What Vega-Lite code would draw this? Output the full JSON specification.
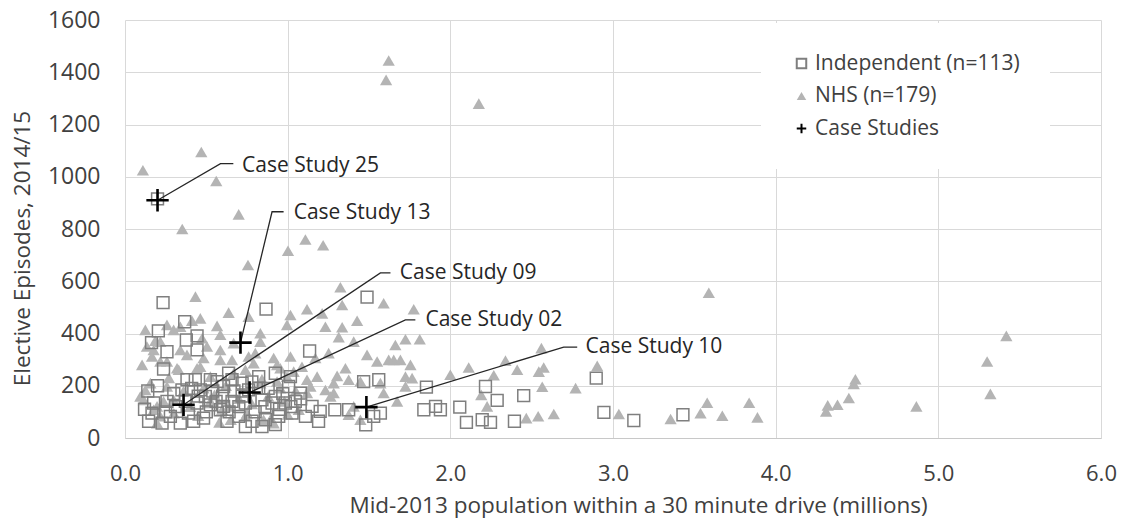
{
  "$schema": "https://vega.github.io/schema/vega-lite/v6.json",
  "width": 976,
  "height": 418,
  "autosize": {"type": "none"},
  "padding": {"left": 125, "top": 20, "right": 21, "bottom": 86},
  "background": "white",
  "config": {
    "font": "Open Sans",
    "view": {"stroke": null},
    "legend": {
      "orient": "none",
      "legendX": 636,
      "legendY": 3,
      "padding": 30,
      "fillColor": "white",
      "labelFontSize": 21,
      "labelColor": "#404040",
      "labelFont": "Open Sans",
      "labelLimit": 400,
      "symbolSize": 90,
      "symbolStrokeWidth": 2,
      "rowPadding": 10.5,
      "labelOffset": 3
    }
  },
  "datasets": {
    "indep": [
      {"s": "Independent (n=113)", "x": 0.234, "y": 518}, {"s": "Independent (n=113)", "x": 0.867, "y": 493},
      {"s": "Independent (n=113)", "x": 1.135, "y": 333}, {"s": "Independent (n=113)", "x": 1.488, "y": 539},
      {"s": "Independent (n=113)", "x": 0.367, "y": 445}, {"s": "Independent (n=113)", "x": 0.205, "y": 410},
      {"s": "Independent (n=113)", "x": 0.443, "y": 391}, {"s": "Independent (n=113)", "x": 0.377, "y": 375},
      {"s": "Independent (n=113)", "x": 0.163, "y": 365}, {"s": "Independent (n=113)", "x": 0.258, "y": 330},
      {"s": "Independent (n=113)", "x": 0.443, "y": 337}, {"s": "Independent (n=113)", "x": 0.237, "y": 264},
      {"s": "Independent (n=113)", "x": 0.637, "y": 248}, {"s": "Independent (n=113)", "x": 1.467, "y": 216},
      {"s": "Independent (n=113)", "x": 1.56, "y": 223}, {"s": "Independent (n=113)", "x": 1.48, "y": 50},
      {"s": "Independent (n=113)", "x": 1.57, "y": 95}, {"s": "Independent (n=113)", "x": 1.29, "y": 108},
      {"s": "Independent (n=113)", "x": 1.375, "y": 108}, {"s": "Independent (n=113)", "x": 1.529, "y": 83},
      {"s": "Independent (n=113)", "x": 1.2, "y": 102}, {"s": "Independent (n=113)", "x": 1.19, "y": 64},
      {"s": "Independent (n=113)", "x": 1.853, "y": 195}, {"s": "Independent (n=113)", "x": 1.837, "y": 108},
      {"s": "Independent (n=113)", "x": 1.909, "y": 121}, {"s": "Independent (n=113)", "x": 1.939, "y": 108},
      {"s": "Independent (n=113)", "x": 2.058, "y": 118}, {"s": "Independent (n=113)", "x": 2.099, "y": 60},
      {"s": "Independent (n=113)", "x": 2.216, "y": 197}, {"s": "Independent (n=113)", "x": 2.196, "y": 70},
      {"s": "Independent (n=113)", "x": 2.247, "y": 60}, {"s": "Independent (n=113)", "x": 2.288, "y": 144},
      {"s": "Independent (n=113)", "x": 2.451, "y": 162}, {"s": "Independent (n=113)", "x": 2.394, "y": 64},
      {"s": "Independent (n=113)", "x": 2.897, "y": 229}, {"s": "Independent (n=113)", "x": 2.944, "y": 98},
      {"s": "Independent (n=113)", "x": 3.128, "y": 67}, {"s": "Independent (n=113)", "x": 3.43, "y": 89},
      {"s": "Independent (n=113)", "x": 0.2, "y": 915}, {"s": "Independent (n=113)", "x": 1.15, "y": 121},
      {"s": "Independent (n=113)", "x": 1.078, "y": 172}, {"s": "Independent (n=113)", "x": 1.017, "y": 235},
      {"s": "Independent (n=113)", "x": 0.145, "y": 64}, {"s": "Independent (n=113)", "x": 0.176, "y": 134},
      {"s": "Independent (n=113)", "x": 0.258, "y": 140}, {"s": "Independent (n=113)", "x": 0.279, "y": 83},
      {"s": "Independent (n=113)", "x": 0.35, "y": 184}, {"s": "Independent (n=113)", "x": 0.381, "y": 223},
      {"s": "Independent (n=113)", "x": 0.432, "y": 223}, {"s": "Independent (n=113)", "x": 0.463, "y": 184},
      {"s": "Independent (n=113)", "x": 0.494, "y": 159}, {"s": "Independent (n=113)", "x": 0.525, "y": 223},
      {"s": "Independent (n=113)", "x": 0.566, "y": 216}, {"s": "Independent (n=113)", "x": 0.606, "y": 197},
      {"s": "Independent (n=113)", "x": 0.586, "y": 108}, {"s": "Independent (n=113)", "x": 0.483, "y": 76},
      {"s": "Independent (n=113)", "x": 0.422, "y": 64}, {"s": "Independent (n=113)", "x": 0.34, "y": 57},
      {"s": "Independent (n=113)", "x": 0.228, "y": 57}, {"s": "Independent (n=113)", "x": 0.166, "y": 95},
      {"s": "Independent (n=113)", "x": 0.371, "y": 140}, {"s": "Independent (n=113)", "x": 0.443, "y": 134},
      {"s": "Independent (n=113)", "x": 0.525, "y": 127}, {"s": "Independent (n=113)", "x": 0.606, "y": 121},
      {"s": "Independent (n=113)", "x": 0.627, "y": 64}, {"s": "Independent (n=113)", "x": 0.658, "y": 223},
      {"s": "Independent (n=113)", "x": 0.72, "y": 210}, {"s": "Independent (n=113)", "x": 0.822, "y": 235},
      {"s": "Independent (n=113)", "x": 0.924, "y": 248}, {"s": "Independent (n=113)", "x": 0.658, "y": 140},
      {"s": "Independent (n=113)", "x": 0.74, "y": 134}, {"s": "Independent (n=113)", "x": 0.842, "y": 146},
      {"s": "Independent (n=113)", "x": 0.924, "y": 159}, {"s": "Independent (n=113)", "x": 0.986, "y": 134},
      {"s": "Independent (n=113)", "x": 1.047, "y": 140}, {"s": "Independent (n=113)", "x": 0.699, "y": 83},
      {"s": "Independent (n=113)", "x": 0.781, "y": 64}, {"s": "Independent (n=113)", "x": 0.863, "y": 70},
      {"s": "Independent (n=113)", "x": 0.945, "y": 83}, {"s": "Independent (n=113)", "x": 1.027, "y": 95},
      {"s": "Independent (n=113)", "x": 1.109, "y": 83}, {"s": "Independent (n=113)", "x": 0.74, "y": 44},
      {"s": "Independent (n=113)", "x": 0.842, "y": 44}, {"s": "Independent (n=113)", "x": 0.924, "y": 51},
      {"s": "Independent (n=113)", "x": 0.904, "y": 134}, {"s": "Independent (n=113)", "x": 0.822, "y": 191},
      {"s": "Independent (n=113)", "x": 1.006, "y": 197}, {"s": "Independent (n=113)", "x": 0.76, "y": 184},
      {"s": "Independent (n=113)", "x": 0.12, "y": 110}, {"s": "Independent (n=113)", "x": 0.14, "y": 180},
      {"s": "Independent (n=113)", "x": 0.2, "y": 200}, {"s": "Independent (n=113)", "x": 0.25, "y": 100},
      {"s": "Independent (n=113)", "x": 0.3, "y": 170}, {"s": "Independent (n=113)", "x": 0.31, "y": 120},
      {"s": "Independent (n=113)", "x": 0.39, "y": 95}, {"s": "Independent (n=113)", "x": 0.41, "y": 190},
      {"s": "Independent (n=113)", "x": 0.45, "y": 160}, {"s": "Independent (n=113)", "x": 0.5, "y": 100},
      {"s": "Independent (n=113)", "x": 0.54, "y": 180}, {"s": "Independent (n=113)", "x": 0.56, "y": 140},
      {"s": "Independent (n=113)", "x": 0.6, "y": 160}, {"s": "Independent (n=113)", "x": 0.64, "y": 100},
      {"s": "Independent (n=113)", "x": 0.67, "y": 180}, {"s": "Independent (n=113)", "x": 0.7, "y": 120},
      {"s": "Independent (n=113)", "x": 0.72, "y": 160}, {"s": "Independent (n=113)", "x": 0.8, "y": 100},
      {"s": "Independent (n=113)", "x": 0.86, "y": 120}, {"s": "Independent (n=113)", "x": 0.88, "y": 190},
      {"s": "Independent (n=113)", "x": 0.95, "y": 110}, {"s": "Independent (n=113)", "x": 0.97, "y": 170},
      {"s": "Independent (n=113)", "x": 1.02, "y": 120}, {"s": "Independent (n=113)", "x": 1.08, "y": 150},
      {"s": "Independent (n=113)", "x": 0.78, "y": 215}
    ],
    "nhs": [
      {"s": "NHS (n=179)", "x": 0.11, "y": 1025}, {"s": "NHS (n=179)", "x": 0.469, "y": 1095},
      {"s": "NHS (n=179)", "x": 0.561, "y": 984}, {"s": "NHS (n=179)", "x": 0.699, "y": 856},
      {"s": "NHS (n=179)", "x": 0.352, "y": 800}, {"s": "NHS (n=179)", "x": 1.002, "y": 717},
      {"s": "NHS (n=179)", "x": 1.109, "y": 760}, {"s": "NHS (n=179)", "x": 1.218, "y": 738},
      {"s": "NHS (n=179)", "x": 1.621, "y": 1445}, {"s": "NHS (n=179)", "x": 1.605, "y": 1371},
      {"s": "NHS (n=179)", "x": 2.175, "y": 1280}, {"s": "NHS (n=179)", "x": 0.756, "y": 662},
      {"s": "NHS (n=179)", "x": 3.589, "y": 556}, {"s": "NHS (n=179)", "x": 1.775, "y": 493},
      {"s": "NHS (n=179)", "x": 1.59, "y": 516}, {"s": "NHS (n=179)", "x": 1.724, "y": 378},
      {"s": "NHS (n=179)", "x": 1.812, "y": 378}, {"s": "NHS (n=179)", "x": 1.662, "y": 356},
      {"s": "NHS (n=179)", "x": 1.652, "y": 299}, {"s": "NHS (n=179)", "x": 1.693, "y": 299},
      {"s": "NHS (n=179)", "x": 1.755, "y": 280}, {"s": "NHS (n=179)", "x": 1.724, "y": 235},
      {"s": "NHS (n=179)", "x": 1.765, "y": 229}, {"s": "NHS (n=179)", "x": 1.724, "y": 197},
      {"s": "NHS (n=179)", "x": 2.0, "y": 242}, {"s": "NHS (n=179)", "x": 2.113, "y": 270},
      {"s": "NHS (n=179)", "x": 2.267, "y": 240}, {"s": "NHS (n=179)", "x": 2.339, "y": 296},
      {"s": "NHS (n=179)", "x": 2.411, "y": 261}, {"s": "NHS (n=179)", "x": 2.56, "y": 344},
      {"s": "NHS (n=179)", "x": 2.544, "y": 254}, {"s": "NHS (n=179)", "x": 2.574, "y": 270},
      {"s": "NHS (n=179)", "x": 2.565, "y": 196}, {"s": "NHS (n=179)", "x": 2.77, "y": 191},
      {"s": "NHS (n=179)", "x": 2.903, "y": 276}, {"s": "NHS (n=179)", "x": 2.19, "y": 165},
      {"s": "NHS (n=179)", "x": 2.226, "y": 121}, {"s": "NHS (n=179)", "x": 2.467, "y": 76},
      {"s": "NHS (n=179)", "x": 2.54, "y": 83}, {"s": "NHS (n=179)", "x": 2.636, "y": 92},
      {"s": "NHS (n=179)", "x": 3.036, "y": 92}, {"s": "NHS (n=179)", "x": 3.354, "y": 73},
      {"s": "NHS (n=179)", "x": 3.538, "y": 95}, {"s": "NHS (n=179)", "x": 3.579, "y": 135},
      {"s": "NHS (n=179)", "x": 3.672, "y": 85}, {"s": "NHS (n=179)", "x": 3.837, "y": 135},
      {"s": "NHS (n=179)", "x": 3.888, "y": 79}, {"s": "NHS (n=179)", "x": 4.49, "y": 225},
      {"s": "NHS (n=179)", "x": 4.48, "y": 207}, {"s": "NHS (n=179)", "x": 4.45, "y": 153},
      {"s": "NHS (n=179)", "x": 4.38, "y": 127}, {"s": "NHS (n=179)", "x": 4.32, "y": 125},
      {"s": "NHS (n=179)", "x": 4.31, "y": 102}, {"s": "NHS (n=179)", "x": 4.865, "y": 121},
      {"s": "NHS (n=179)", "x": 5.418, "y": 391}, {"s": "NHS (n=179)", "x": 5.3, "y": 293},
      {"s": "NHS (n=179)", "x": 5.32, "y": 169},
      {"s": "NHS (n=179)", "x": 0.433, "y": 541}, {"s": "NHS (n=179)", "x": 0.637, "y": 480},
      {"s": "NHS (n=179)", "x": 1.017, "y": 471}, {"s": "NHS (n=179)", "x": 1.119, "y": 493},
      {"s": "NHS (n=179)", "x": 1.212, "y": 477}, {"s": "NHS (n=179)", "x": 1.324, "y": 577},
      {"s": "NHS (n=179)", "x": 1.335, "y": 509}, {"s": "NHS (n=179)", "x": 1.427, "y": 449},
      {"s": "NHS (n=179)", "x": 1.335, "y": 424}, {"s": "NHS (n=179)", "x": 1.232, "y": 426},
      {"s": "NHS (n=179)", "x": 0.996, "y": 433}, {"s": "NHS (n=179)", "x": 0.832, "y": 401},
      {"s": "NHS (n=179)", "x": 0.76, "y": 464}, {"s": "NHS (n=179)", "x": 0.566, "y": 429},
      {"s": "NHS (n=179)", "x": 0.463, "y": 458}, {"s": "NHS (n=179)", "x": 0.412, "y": 449},
      {"s": "NHS (n=179)", "x": 0.34, "y": 426}, {"s": "NHS (n=179)", "x": 0.258, "y": 433},
      {"s": "NHS (n=179)", "x": 0.125, "y": 414}, {"s": "NHS (n=179)", "x": 0.135, "y": 350},
      {"s": "NHS (n=179)", "x": 0.105, "y": 280}, {"s": "NHS (n=179)", "x": 0.176, "y": 337},
      {"s": "NHS (n=179)", "x": 0.217, "y": 369}, {"s": "NHS (n=179)", "x": 0.258, "y": 293},
      {"s": "NHS (n=179)", "x": 0.34, "y": 337}, {"s": "NHS (n=179)", "x": 0.381, "y": 318},
      {"s": "NHS (n=179)", "x": 0.504, "y": 350}, {"s": "NHS (n=179)", "x": 0.483, "y": 306},
      {"s": "NHS (n=179)", "x": 0.586, "y": 337}, {"s": "NHS (n=179)", "x": 0.658, "y": 299},
      {"s": "NHS (n=179)", "x": 0.76, "y": 312}, {"s": "NHS (n=179)", "x": 0.791, "y": 286},
      {"s": "NHS (n=179)", "x": 0.914, "y": 306}, {"s": "NHS (n=179)", "x": 1.017, "y": 312},
      {"s": "NHS (n=179)", "x": 0.955, "y": 267}, {"s": "NHS (n=179)", "x": 1.252, "y": 325},
      {"s": "NHS (n=179)", "x": 1.314, "y": 386}, {"s": "NHS (n=179)", "x": 1.406, "y": 369},
      {"s": "NHS (n=179)", "x": 1.488, "y": 318}, {"s": "NHS (n=179)", "x": 1.55, "y": 293},
      {"s": "NHS (n=179)", "x": 1.621, "y": 299}, {"s": "NHS (n=179)", "x": 1.181, "y": 235},
      {"s": "NHS (n=179)", "x": 1.283, "y": 210}, {"s": "NHS (n=179)", "x": 1.375, "y": 223},
      {"s": "NHS (n=179)", "x": 1.447, "y": 216}, {"s": "NHS (n=179)", "x": 1.57, "y": 210},
      {"s": "NHS (n=179)", "x": 1.673, "y": 140}, {"s": "NHS (n=179)", "x": 1.119, "y": 172},
      {"s": "NHS (n=179)", "x": 1.406, "y": 121}, {"s": "NHS (n=179)", "x": 1.447, "y": 70},
      {"s": "NHS (n=179)", "x": 0.935, "y": 280}, {"s": "NHS (n=179)", "x": 1.037, "y": 254},
      {"s": "NHS (n=179)", "x": 1.119, "y": 223}, {"s": "NHS (n=179)", "x": 0.668, "y": 248},
      {"s": "NHS (n=179)", "x": 0.463, "y": 273}, {"s": "NHS (n=179)", "x": 0.32, "y": 267},
      {"s": "NHS (n=179)", "x": 0.094, "y": 159}, {"s": "NHS (n=179)", "x": 0.156, "y": 210},
      {"s": "NHS (n=179)", "x": 0.197, "y": 121}, {"s": "NHS (n=179)", "x": 0.217, "y": 83},
      {"s": "NHS (n=179)", "x": 0.197, "y": 57}, {"s": "NHS (n=179)", "x": 0.299, "y": 146},
      {"s": "NHS (n=179)", "x": 0.525, "y": 134}, {"s": "NHS (n=179)", "x": 0.75, "y": 95},
      {"s": "NHS (n=179)", "x": 0.852, "y": 70}, {"s": "NHS (n=179)", "x": 0.914, "y": 57},
      {"s": "NHS (n=179)", "x": 0.832, "y": 210}, {"s": "NHS (n=179)", "x": 0.955, "y": 191},
      {"s": "NHS (n=179)", "x": 0.474, "y": 382}, {"s": "NHS (n=179)", "x": 0.668, "y": 363},
      {"s": "NHS (n=179)", "x": 0.586, "y": 395}, {"s": "NHS (n=179)", "x": 1.355, "y": 267},
      {"s": "NHS (n=179)", "x": 1.304, "y": 238}, {"s": "NHS (n=179)", "x": 1.375, "y": 89},
      {"s": "NHS (n=179)", "x": 1.59, "y": 172}, {"s": "NHS (n=179)", "x": 1.283, "y": 172},
      {"s": "NHS (n=179)", "x": 0.299, "y": 414}, {"s": "NHS (n=179)", "x": 0.186, "y": 372},
      {"s": "NHS (n=179)", "x": 0.166, "y": 312}, {"s": "NHS (n=179)", "x": 0.217, "y": 293},
      {"s": "NHS (n=179)", "x": 0.586, "y": 299}, {"s": "NHS (n=179)", "x": 0.33, "y": 261},
      {"s": "NHS (n=179)", "x": 0.443, "y": 267}, {"s": "NHS (n=179)", "x": 0.525, "y": 235},
      {"s": "NHS (n=179)", "x": 0.125, "y": 184}, {"s": "NHS (n=179)", "x": 0.115, "y": 146},
      {"s": "NHS (n=179)", "x": 0.176, "y": 108}, {"s": "NHS (n=179)", "x": 0.237, "y": 140},
      {"s": "NHS (n=179)", "x": 0.258, "y": 197}, {"s": "NHS (n=179)", "x": 0.483, "y": 191},
      {"s": "NHS (n=179)", "x": 0.525, "y": 140}, {"s": "NHS (n=179)", "x": 0.597, "y": 108},
      {"s": "NHS (n=179)", "x": 0.832, "y": 369}, {"s": "NHS (n=179)", "x": 0.801, "y": 325},
      {"s": "NHS (n=179)", "x": 1.17, "y": 306}, {"s": "NHS (n=179)", "x": 1.088, "y": 273},
      {"s": "NHS (n=179)", "x": 0.74, "y": 261}, {"s": "NHS (n=179)", "x": 0.842, "y": 225},
      {"s": "NHS (n=179)", "x": 0.935, "y": 216}, {"s": "NHS (n=179)", "x": 0.996, "y": 235},
      {"s": "NHS (n=179)", "x": 0.637, "y": 121}, {"s": "NHS (n=179)", "x": 0.893, "y": 70},
      {"s": "NHS (n=179)", "x": 1.068, "y": 108}, {"s": "NHS (n=179)", "x": 0.74, "y": 83},
      {"s": "NHS (n=179)", "x": 1.14, "y": 197}, {"s": "NHS (n=179)", "x": 1.232, "y": 184},
      {"s": "NHS (n=179)", "x": 1.263, "y": 159}, {"s": "NHS (n=179)", "x": 0.3, "y": 95},
      {"s": "NHS (n=179)", "x": 0.36, "y": 180}, {"s": "NHS (n=179)", "x": 0.4, "y": 120},
      {"s": "NHS (n=179)", "x": 0.55, "y": 165}, {"s": "NHS (n=179)", "x": 0.62, "y": 200},
      {"s": "NHS (n=179)", "x": 0.7, "y": 150}, {"s": "NHS (n=179)", "x": 0.78, "y": 130},
      {"s": "NHS (n=179)", "x": 0.88, "y": 160}, {"s": "NHS (n=179)", "x": 0.98, "y": 140},
      {"s": "NHS (n=179)", "x": 1.05, "y": 180}, {"s": "NHS (n=179)", "x": 0.45, "y": 85},
      {"s": "NHS (n=179)", "x": 0.58, "y": 60}, {"s": "NHS (n=179)", "x": 1.0, "y": 90},
      {"s": "NHS (n=179)", "x": 0.27, "y": 230}, {"s": "NHS (n=179)", "x": 0.65, "y": 70}
    ],
    "cases": [
      {"s": "Case Studies", "x": 0.2, "y": 910},
      {"s": "Case Studies", "x": 0.71, "y": 365},
      {"s": "Case Studies", "x": 0.36, "y": 127},
      {"s": "Case Studies", "x": 0.766, "y": 174},
      {"s": "Case Studies", "x": 1.484, "y": 118}
    ],
    "leaders": [
      {"cs": "25", "o": 0, "x": 0.2, "y": 910}, {"cs": "25", "o": 1, "x": 0.587, "y": 1050}, {"cs": "25", "o": 2, "x": 0.666, "y": 1050},
      {"cs": "13", "o": 0, "x": 0.71, "y": 365}, {"cs": "13", "o": 1, "x": 0.904, "y": 866}, {"cs": "13", "o": 2, "x": 0.975, "y": 866},
      {"cs": "09", "o": 0, "x": 0.36, "y": 127}, {"cs": "09", "o": 1, "x": 1.57, "y": 632}, {"cs": "09", "o": 2, "x": 1.632, "y": 632},
      {"cs": "02", "o": 0, "x": 0.766, "y": 174}, {"cs": "02", "o": 1, "x": 1.724, "y": 452}, {"cs": "02", "o": 2, "x": 1.785, "y": 452},
      {"cs": "10", "o": 0, "x": 1.484, "y": 118}, {"cs": "10", "o": 1, "x": 2.697, "y": 348}, {"cs": "10", "o": 2, "x": 2.78, "y": 348}
    ],
    "labels": [
      {"t": "Case Study 25", "x": 0.72, "y": 1043},
      {"t": "Case Study 13", "x": 1.037, "y": 860},
      {"t": "Case Study 09", "x": 1.689, "y": 632},
      {"t": "Case Study 02", "x": 1.847, "y": 450},
      {"t": "Case Study 10", "x": 2.831, "y": 348}
    ]
  },
  "layer": [
    {
      "data": {"name": "nhs"},
      "mark": {"type": "point", "size": 150, "strokeWidth": 0, "opacity": 1},
      "encoding": {
        "x": {
          "field": "x", "type": "quantitative",
          "scale": {"domain": [0, 6], "nice": false, "zero": false},
          "axis": {
            "values": [0, 1, 2, 3, 4, 5, 6], "format": ".1f",
            "grid": true, "gridColor": "#d9d9d9", "gridWidth": 1,
            "domain": true, "domainColor": "#c8c8c8", "ticks": false,
            "labelFlush": false, "labelOverlap": false,
            "labelFontSize": 22, "labelColor": "#404040", "labelPadding": 25,
            "labelFont": "Open Sans",
            "title": "Mid-2013 population within a 30 minute drive (millions)",
            "titleFontSize": 22.5, "titleFontWeight": "normal", "titleColor": "#404040",
            "titleFont": "Open Sans",
            "titleX": 513, "titleY": 67, "titleBaseline": "middle"
          }
        },
        "y": {
          "field": "y", "type": "quantitative",
          "scale": {"domain": [0, 1600], "nice": false},
          "axis": {
            "values": [0, 200, 400, 600, 800, 1000, 1200, 1400, 1600],
            "format": "d",
            "grid": true, "gridColor": "#d9d9d9", "gridWidth": 1,
            "domain": false, "ticks": false,
            "labelFlush": false, "labelOverlap": false,
            "labelFontSize": 23, "labelColor": "#404040", "labelPadding": 25,
            "labelFont": "Open Sans",
            "title": "Elective Episodes, 2014/15",
            "titleFontSize": 22.5, "titleFontWeight": "normal", "titleColor": "#404040",
            "titleFont": "Open Sans",
            "titleX": -103, "titleY": 228, "titleBaseline": "middle"
          }
        },
        "shape": {
          "field": "s", "type": "nominal",
          "scale": {"domain": ["Independent (n=113)", "NHS (n=179)", "Case Studies"], "range": ["square", "triangle-up", "M-1,0L1,0M0,-1L0,1"]},
          "legend": {"title": null}
        },
        "fill": {
          "field": "s", "type": "nominal",
          "scale": {"domain": ["Independent (n=113)", "NHS (n=179)", "Case Studies"], "range": ["rgba(0,0,0,0)", "#b4b4b4", "rgba(0,0,0,0)"]},
          "legend": {"title": null}
        },
        "stroke": {
          "field": "s", "type": "nominal",
          "scale": {"domain": ["Independent (n=113)", "NHS (n=179)", "Case Studies"], "range": ["#7f7f7f", "rgba(0,0,0,0)", "#000000"]},
          "legend": {"title": null}
        }
      }
    },
    {
      "data": {"name": "indep"},
      "mark": {"type": "point", "size": 140, "strokeWidth": 1.5, "opacity": 1},
      "encoding": {
        "x": {"field": "x", "type": "quantitative"},
        "y": {"field": "y", "type": "quantitative"},
        "shape": {"field": "s", "type": "nominal", "legend": {"title": null}},
        "fill": {"field": "s", "type": "nominal", "legend": {"title": null}},
        "stroke": {"field": "s", "type": "nominal", "legend": {"title": null}}
      }
    },
    {
      "data": {"name": "leaders"},
      "mark": {"type": "line", "color": "#262626", "strokeWidth": 1.3},
      "encoding": {
        "x": {"field": "x", "type": "quantitative"},
        "y": {"field": "y", "type": "quantitative"},
        "detail": {"field": "cs", "type": "nominal"},
        "order": {"field": "o", "type": "quantitative"}
      }
    },
    {
      "data": {"name": "cases"},
      "mark": {"type": "point", "size": 500, "strokeWidth": 2.6, "opacity": 1},
      "encoding": {
        "x": {"field": "x", "type": "quantitative"},
        "y": {"field": "y", "type": "quantitative"},
        "shape": {"field": "s", "type": "nominal", "legend": {"title": null}},
        "fill": {"field": "s", "type": "nominal", "legend": {"title": null}},
        "stroke": {"field": "s", "type": "nominal", "legend": {"title": null}}
      }
    },
    {
      "data": {"name": "labels"},
      "mark": {"type": "text", "align": "left", "baseline": "middle", "fontSize": 21, "font": "Open Sans", "color": "#262626"},
      "encoding": {
        "x": {"field": "x", "type": "quantitative"},
        "y": {"field": "y", "type": "quantitative"},
        "text": {"field": "t", "type": "nominal"}
      }
    }
  ]
}
